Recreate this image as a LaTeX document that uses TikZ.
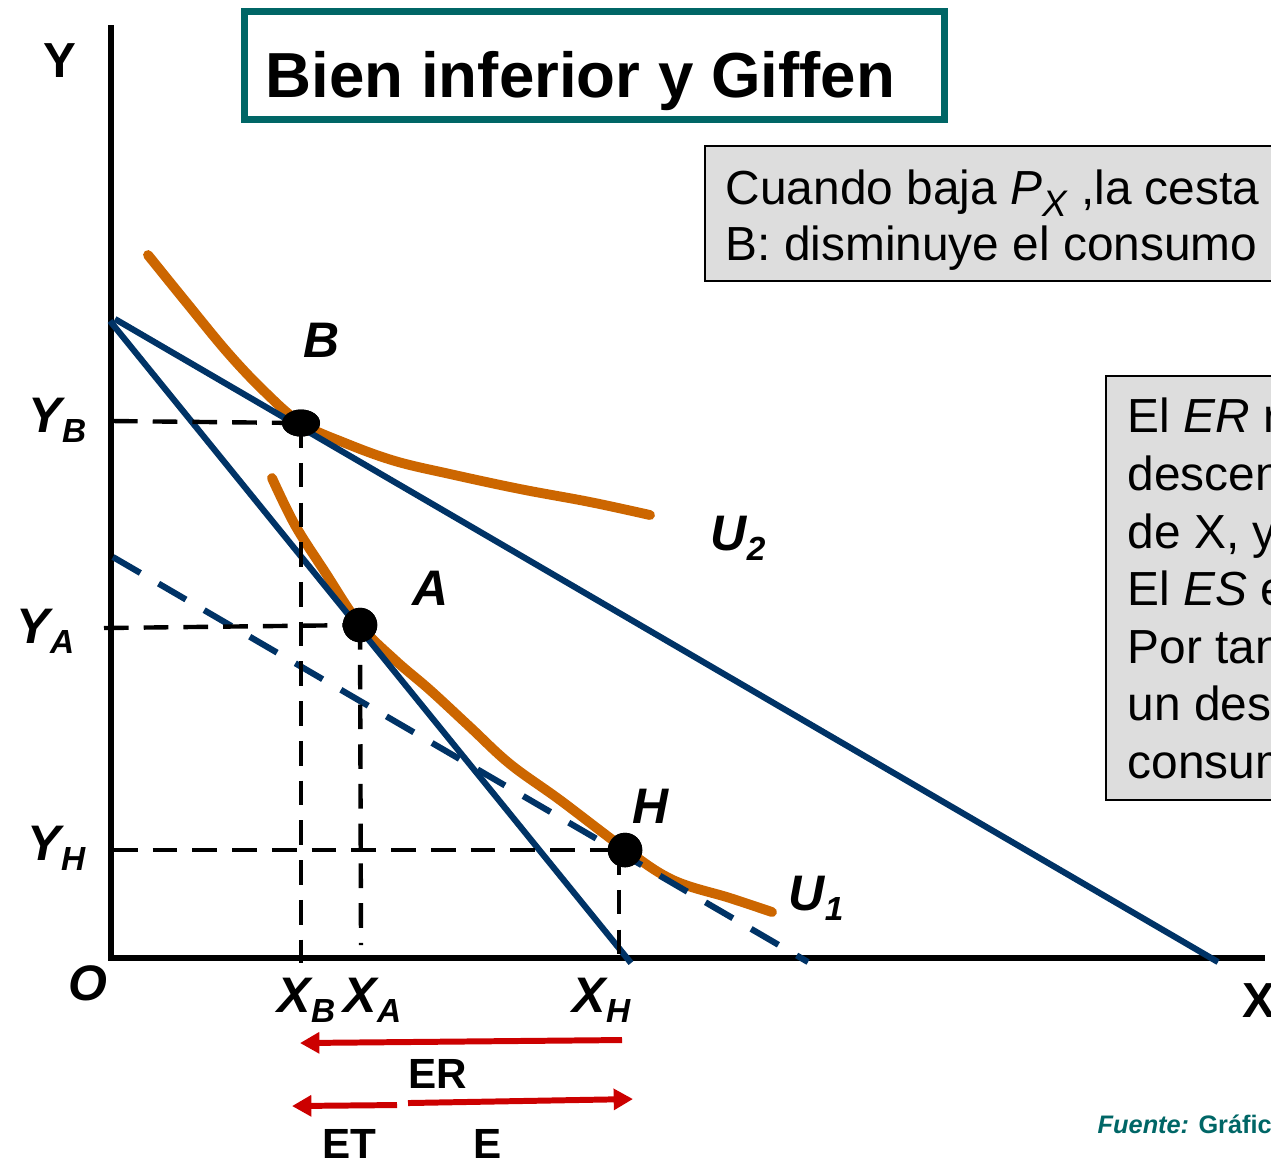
\documentclass[tikz,border=0pt]{standalone}
\usepackage{fontspec}
\setmainfont{Liberation Sans}
\usetikzlibrary{arrows.meta,shapes.geometric}
\definecolor{navy}{HTML}{003366}
\definecolor{orng}{HTML}{CC6600}
\definecolor{redarr}{HTML}{CC0000}
\definecolor{tealc}{HTML}{006666}
\definecolor{boxgray}{HTML}{DDDDDD}
\newcommand\sbx[1]{\raisebox{-3pt}{\fontsize{9.5}{9.5}\selectfont #1}}
\newcommand\psub[1]{\raisebox{-3.5pt}{\fontsize{10.5}{10.5}\selectfont #1}}
\begin{document}
\begin{tikzpicture}[x=0.01cm,y=-0.01cm,
  lab/.style={anchor=base west,inner sep=0,font=\fontsize{14.2}{16}\selectfont\bfseries\itshape},
  axlab/.style={anchor=base west,inner sep=0,font=\fontsize{14}{16}\selectfont\bfseries},
  boxtxt/.style={anchor=base west,inner sep=0,font=\fontsize{13.6}{16}\selectfont},
  efflab/.style={anchor=base west,inner sep=0,font=\fontsize{12}{14}\selectfont\bfseries},
  axisline/.style={line width=1.5pt,black},
  budget/.style={line width=1.75pt,navy},
  budgetdash/.style={line width=1.75pt,navy,dash pattern=on 9pt off 6pt},
  guide/.style={line width=1.25pt,black,dash pattern=on 7pt off 4.3pt},
  indiff/.style={line width=2.8pt,orng,line cap=round,line join=round},
  effarrow/.style={line width=1.7pt,redarr,-{Triangle[length=5.5pt,width=5.8pt]}},
  dotc/.style={circle,fill=black,inner sep=0,minimum size=0.345cm},
  graybox/.style={fill=boxgray,draw=black,line width=0.6pt}]
\useasboundingbox (0,0) rectangle (1271,1159);
\clip (0,0) rectangle (1271,1159);

% title
\draw[tealc,line width=2pt] (244.5,11) rectangle (944.5,119.5);
\node[anchor=base west,inner sep=0,font=\fontsize{18.1}{21}\selectfont\bfseries] (title) at (265,97) {Bien inferior y Giffen};

% gray boxes
\draw[graybox] (705,146) rectangle (1290,281);
\node[boxtxt] (c1) at (725,204) {Cuando baja \textit{P}\psub{\textit{X}} ,la cesta óptima};
\node[boxtxt] (c2) at (725,260) {B: disminuye el consumo de X};
\draw[graybox] (1106,376) rectangle (1290,800);
\node[boxtxt] (e1) at (1127,432) {El \textit{ER} r};
\node[boxtxt] (e2) at (1127,490) {descen};
\node[boxtxt] (e3) at (1127,548) {de X, y};
\node[boxtxt] (e4) at (1127,605) {El \textit{ES} e};
\node[boxtxt] (e5) at (1127,663) {Por tan};
\node[boxtxt] (e6) at (1127,720) {un des};
\node[boxtxt] (e7) at (1127,778) {consum};

% axes
\coordinate (O) at (111,958);
\coordinate (ytop) at (111,25);
\coordinate (xend) at (1265,958);
\draw[axisline] (ytop) -- (O) -- (xend);

% points
\node[ellipse,fill=black,inner sep=0,minimum width=0.38cm,minimum height=0.27cm] (B) at (301,423) {};
\node[dotc] (A) at (360,625) {};
\node[dotc] (H) at (625,850) {};

% indifference curves
\draw[indiff] plot[smooth,tension=0.6] coordinates {(148,255) (186,302) (228,353) (265,392) (301,423) (345,443) (395,461) (450,474) (520,489) (590,502) (650,515)};
\draw[indiff] plot[smooth,tension=0.6] coordinates {(272,478) (295,525) (325,572) (360,625) (395,660) (430,690) (470,727) (510,764) (560,800) (625,849) (673,880) (730,898) (772,912)};

% budget lines
\coordinate (Y0a) at (110,321);
\coordinate (Y0b) at (115,319);
\coordinate (X1) at (631,963);
\coordinate (X2) at (1218,962);
\coordinate (D0) at (113,557);
\coordinate (D1) at (808,962);
\draw[budget] (Y0a) -- (X1);
\draw[budget] (Y0b) -- (X2);
\draw[budgetdash] (D0) -- (D1);

% guides
\coordinate (gyB) at (113,421);
\coordinate (gyA) at (104,628);
\coordinate (gyH) at (113,850);
\coordinate (gxB) at (301,963);
\coordinate (gxA) at (361,945);
\coordinate (gxH) at (619,958);
\draw[guide] (gyB) -- (B.center);
\draw[guide] (gyA) -- (A.center);
\draw[guide] (gyH) -- (H.center);
\draw[guide] (B.center) -- (gxB);
\draw[guide] (A.center) -- (gxA);
\draw[guide] (H.center -| gxH) -- (gxH);

% redraw dots on top
\node[ellipse,fill=black,inner sep=0,minimum width=0.38cm,minimum height=0.27cm] (Bt) at (B) {};
\node[dotc] (At) at (A) {};
\node[dotc] (Ht) at (H) {};

% labels
\node[lab] (lB) at (303,357) {B};
\node[lab] (lA) at (412,605) {A};
\node[lab] (lH) at (632,823) {H};
\node[lab] (lU2) at (710,550) {U\sbx{2}};
\node[lab] (lU1) at (788,910) {U\sbx{1}};
\node[lab] (lYB) at (28,432) {Y\sbx{B}};
\node[lab] (lYA) at (16,643) {Y\sbx{A}};
\node[lab] (lYH) at (27,860) {Y\sbx{H}};
\node[lab] (lO) at (68,1000) {O};
\node[lab] (lXB) at (277,1012) {X\sbx{B}};
\node[lab] (lXA) at (343,1012) {X\sbx{A}};
\node[lab] (lXH) at (572,1012) {X\sbx{H}};
\node[axlab] (lY) at (43,77) {Y};
\node[axlab] (lX) at (1242,1017) {X};

% effect arrows
\coordinate (erR) at (622,1040);
\coordinate (erL) at (300,1043);
\coordinate (etR) at (397,1105);
\coordinate (etL) at (292,1106);
\coordinate (eR) at (408,1103);
\coordinate (eL) at (633,1099);
\draw[effarrow] (erR) -- (erL);
\draw[effarrow] (etR) -- (etL);
\draw[effarrow] (eR) -- (eL);
\node[efflab] (lER) at (408,1088) {ER};
\node[efflab] (lET) at (322,1158) {ET};
\node[efflab] (lE) at (473,1158) {E};

% source
\node[anchor=base west,inner sep=0,text=tealc,font=\fontsize{7.2}{8}\selectfont\bfseries] (src) at (1097,1133) {\textit{Fuente:} Gráfico};
\end{tikzpicture}
\end{document}
